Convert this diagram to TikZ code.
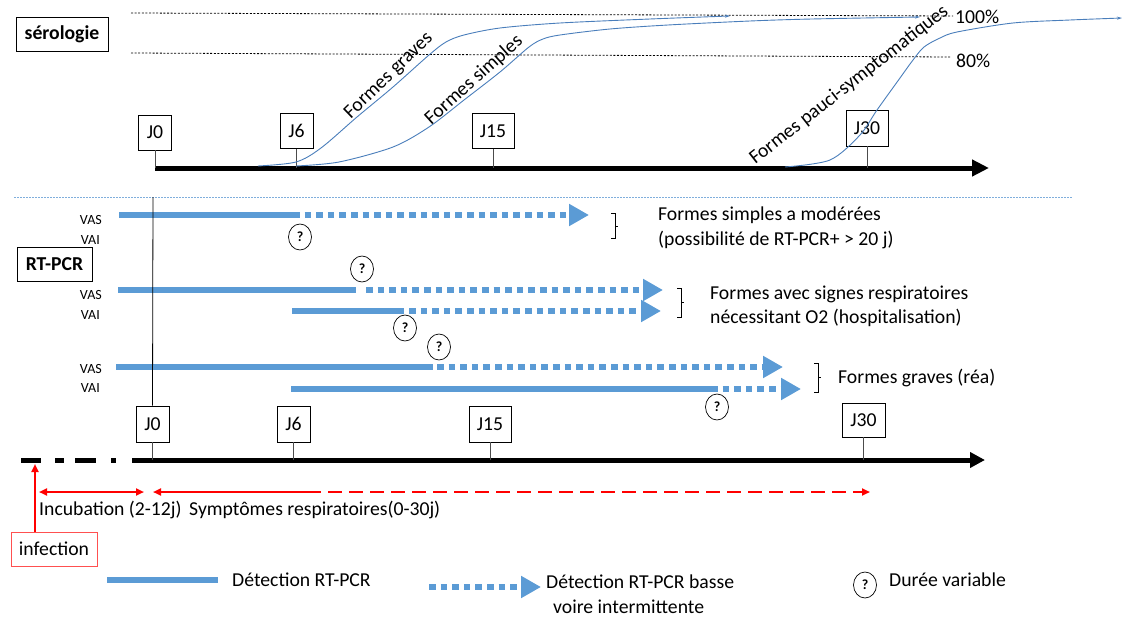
\documentclass[tikz,border=0pt]{standalone}
\usepackage{fontspec}
\setmainfont{Carlito}
\usetikzlibrary{arrows.meta,shapes.geometric}
\definecolor{barblue}{HTML}{5B9BD5}
\definecolor{baredge}{HTML}{41719C}
\definecolor{curveblue}{HTML}{4A7EBB}
\definecolor{sepblue}{HTML}{7FAEDC}
\definecolor{infred}{HTML}{FF5050}
\begin{document}
\begin{tikzpicture}[x=1pt,y=-1pt,
  txt/.style={font=\fontsize{19.7}{23}\selectfont, inner sep=0pt, anchor=west},
  lab/.style={font=\fontsize{19.7}{23}\selectfont, inner sep=0pt},
  vlab/.style={font=\fontsize{14}{16}\selectfont, inner sep=0pt, anchor=east},
  jbox/.style={draw, line width=0.8pt, inner sep=0pt, minimum height=35pt, minimum width=33pt, font=\fontsize{19.7}{23}\selectfont},
  titlebox/.style={draw, line width=0.8pt, inner sep=0pt, minimum height=34pt, font=\fontsize{19.7}{23}\selectfont\bfseries},
  qcirc/.style={draw, ellipse, line width=0.7pt, inner sep=0pt, minimum width=23pt, minimum height=26pt, font=\fontsize{14}{15}\selectfont\bfseries},
  solidbar/.style={draw=baredge, double=barblue, double distance=5.4pt, line width=0.6pt},
  dotbar/.style={draw=barblue, line width=6.5pt, dash pattern=on 6.6pt off 5pt, -{Triangle[length=20pt,width=21pt]}},
  axis/.style={line width=5pt},
  tick/.style={line width=0.8pt, black!70},
  curve/.style={draw=curveblue, line width=0.9pt},
  redarrow/.style={red, line width=2pt},
  brk/.style={line width=0.8pt},
  dotline/.style={line width=0.8pt, dash pattern=on 2pt off 1.6pt}
]
\useasboundingbox (0,0) rectangle (1125,618);

% ---------- serologie ----------
\node[titlebox, minimum width=92pt] (sero) at (62,34) {sérologie};
\coordinate (d100a) at (131,13); \coordinate (d100b) at (953,16);
\coordinate (d80a) at (131,53); \coordinate (d80b) at (951,57);
\draw[dotline] (d100a) -- (d100b);
\draw[dotline] (d80a) -- (d80b);
\node[txt] (p100) at (955,17) {100\%};
\node[txt] (p80) at (956,61) {80\%};

\coordinate (ta0) at (155,168);
\coordinate (ta1) at (989,168);
\draw[axis, -{Triangle[length=17pt,width=16pt]}] (ta0) -- (ta1);
\node[jbox] (J0t) at (155,132.5) {J0};
\node[jbox] (J6t) at (296.5,131) {J6};
\node[jbox, minimum width=42pt] (J15t) at (493,131) {J15};
\node[jbox, minimum width=42pt, minimum height=36pt] (J30t) at (867,128) {J30};
\draw[tick] (J0t.south) -- (J0t.south |- ta0);
\draw[tick] (J6t.south) -- (J6t.south |- ta0);
\draw[tick] (J15t.south) -- (J15t.south |- ta0);
\draw[tick] (J30t.south) -- (J30t.south |- ta0);

\draw[curve, -{Stealth[length=5pt,width=3pt]}] plot[smooth] coordinates {(258,166) (296,162) (321,148) (357,117) (393,87) (429,55) (446,42) (464,35) (500,28) (560,23) (650,19) (730,16)};
\draw[curve, -{Stealth[length=5pt,width=3pt]}] plot[smooth] coordinates {(296,166) (339,162) (393,147) (429,127) (464,100) (500,72) (529,47) (543,39) (560,35) (610,29) (668,25) (750,21) (812,19) (920,17)};
\draw[curve, -{Stealth[length=5pt,width=3pt]}] plot[smooth] coordinates {(785,167) (830,160) (860,135) (877,110) (900,78) (913,60) (924,47) (940,38) (957,32) (1013,23) (1070,20) (1122,18)};
\node[lab, rotate=44] (lg) at (389,76) {Formes graves};
\node[lab, rotate=42] (ls) at (474,80) {Formes simples};
\node[lab, rotate=38] (lp) at (849,85) {Formes pauci-symptomatiques};

% ---------- separator ----------
\coordinate (s0) at (14,197); \coordinate (s1) at (1072,197);
\draw[sepblue, line width=1pt, dash pattern=on 1.5pt off 1.5pt] (s0) -- (s1);

% ---------- RT-PCR ----------
\node[titlebox, minimum width=75pt] (rt) at (54.5,264) {RT-PCR};
\node[vlab] (vas1) at (102,220) {VAS};
\node[vlab] (vai1) at (100,240) {VAI};
\node[vlab] (vas2) at (102,295) {VAS};
\node[vlab] (vai2) at (100,315) {VAI};
\node[vlab] (vas3) at (102,369) {VAS};
\node[vlab] (vai3) at (100,388) {VAI};

\coordinate (a1) at (119,215); \coordinate (a2) at (293,215); \coordinate (a3) at (589,215);
\draw[solidbar] (a1) -- (a2); \draw[dotbar] (a2) -- (a3);
\coordinate (b1) at (118,290); \coordinate (b2) at (356,290); \coordinate (b3) at (366,290); \coordinate (b4) at (663,290);
\draw[solidbar] (b1) -- (b2); \draw[dotbar] (b3) -- (b4);
\coordinate (c1) at (292,311); \coordinate (c2) at (404,311); \coordinate (c3) at (409,311); \coordinate (c4) at (661,311);
\draw[solidbar] (c1) -- (c2); \draw[dotbar] (c3) -- (c4);
\coordinate (d1) at (116,367); \coordinate (d2) at (433,367); \coordinate (d3) at (437,367); \coordinate (d4) at (783,367);
\draw[solidbar] (d1) -- (d2); \draw[dotbar] (d3) -- (d4);
\coordinate (e1) at (291,389); \coordinate (e2) at (711,389); \coordinate (e3) at (801,389);
\draw[solidbar] (e1) -- (e2); \draw[dotbar] (e2) -- (e3);

\node[qcirc] (q1) at (300,237) {?};
\node[qcirc] (q2) at (362,269) {?};
\node[qcirc] (q3) at (405,328) {?};
\node[qcirc] (q4) at (439,347) {?};
\node[qcirc] (q5) at (717,407) {?};

\draw[brk] (611,213) -- (615,213) -- (615,238) -- (611,238) (615,226) -- (618,226);
\draw[brk] (677,288) -- (681,288) -- (681,317) -- (677,317) (681,302) -- (684,302);
\draw[brk] (814,363) -- (818,363) -- (818,392) -- (814,392) (818,377) -- (821,377);
\node[txt] (t1a) at (658,215) {Formes simples a modérées};
\node[txt] (t1b) at (658,240) {(possibilité de RT-PCR+ > 20 j)};
\node[txt] (t2a) at (710,294) {Formes avec signes respiratoires};
\node[txt] (t2b) at (710,318) {nécessitant O2 (hospitalisation)};
\node[txt] (t3) at (838,378) {Formes graves (réa)};

% ---------- bottom axis ----------
\node[jbox, minimum height=36pt] (J0b) at (152.5,424) {J0};
\node[jbox, minimum height=36pt] (J6b) at (293.5,424) {J6};
\node[jbox, minimum width=42pt, minimum height=36pt] (J15b) at (490,424) {J15};
\node[jbox, minimum width=43pt, minimum height=34pt] (J30b) at (863.5,420) {J30};
\coordinate (vtop) at (153,197);
\draw[line width=0.8pt] (vtop) -- (J0b.north);

\coordinate (ba0) at (21,460); \coordinate (ba1) at (152,460); \coordinate (ba2) at (985,460);
\draw[axis, dash pattern=on 20pt off 14pt on 9pt off 11pt on 21pt off 15pt on 5pt off 16pt on 40pt] (ba0) -- (ba1);
\draw[axis, -{Triangle[length=15pt,width=15pt]}] (ba1) -- (ba2);
\draw[tick] (J0b.south) -- (J0b.south |- ba1);
\draw[tick] (J6b.south) -- (J6b.south |- ba1);
\draw[tick] (J15b.south) -- (J15b.south |- ba1);
\draw[tick] (J30b.south) -- (J30b.south |- ba1);

\node[draw=infred, line width=1pt, inner sep=0pt, minimum width=86pt, minimum height=34pt, font=\fontsize{19.7}{23}\selectfont] (inf) at (54,549) {infection};
\coordinate (inf0) at (35,532); \coordinate (inf1) at (35,464);
\draw[redarrow, -{Triangle[length=8pt,width=7pt]}] (inf0) -- (inf1);
\coordinate (r1) at (39,492); \coordinate (r2) at (144,492);
\draw[redarrow, {Triangle[length=8pt,width=7pt]}-{Triangle[length=8pt,width=7pt]}] (r1) -- (r2);
\coordinate (r3) at (307,492); \coordinate (r4) at (153,492); \coordinate (r5) at (870,492);
\draw[redarrow, -{Triangle[length=8pt,width=7pt]}] (r3) -- (r4);
\draw[redarrow, dash pattern=on 14pt off 7pt, -{Triangle[length=8pt,width=7pt]}] (r3) -- (r5);
\node[txt] (inc) at (39,510) {Incubation (2-12j)};
\node[txt] (sym) at (189,510) {Symptômes respiratoires(0-30j)};

% ---------- legend ----------
\coordinate (l1) at (107,580); \coordinate (l2) at (218,580);
\draw[solidbar] (l1) -- (l2);
\node[txt] (lt1) at (232,580) {Détection RT-PCR};
\coordinate (l3) at (429,587); \coordinate (l4) at (541,587);
\draw[dotbar] (l3) -- (l4);
\node[txt] (lt2) at (546,582) {Détection RT-PCR basse};
\node[txt] (lt3) at (553,607) {voire intermittente};
\node[qcirc] (lq) at (865,585) {?};
\node[txt] (lt4) at (889,580) {Durée variable};
\end{tikzpicture}
\end{document}
